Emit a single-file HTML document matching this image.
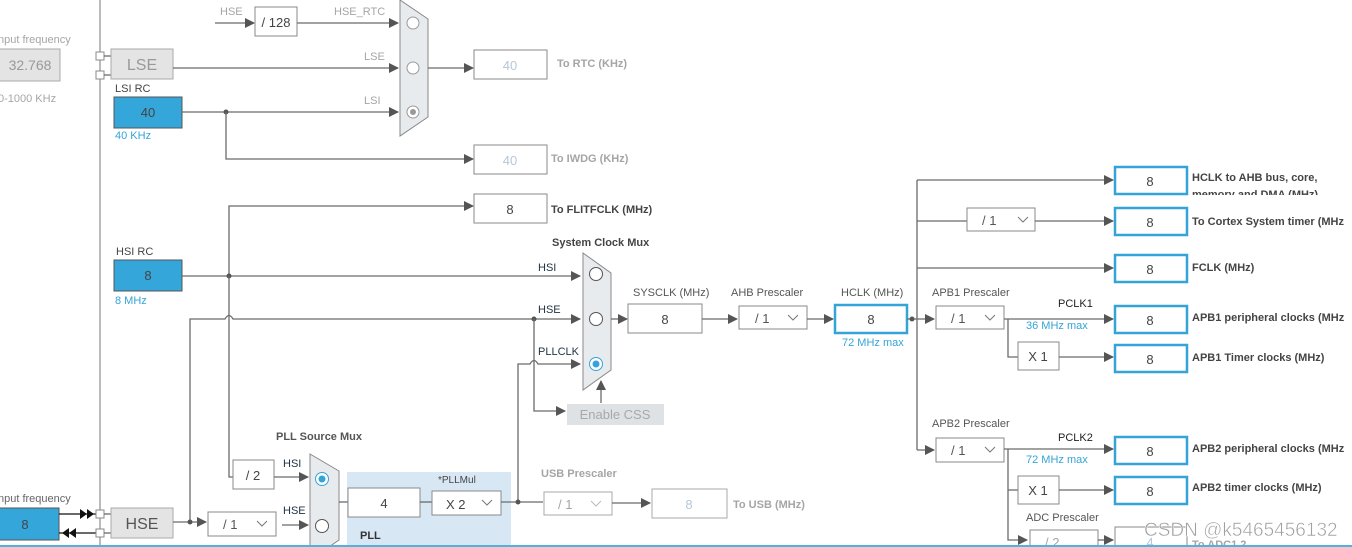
<!DOCTYPE html>
<html><head><meta charset="utf-8"><style>
html,body{margin:0;padding:0;background:#fff;}
svg{display:block;font-family:"Liberation Sans",sans-serif;}
.l{stroke:#6b6b6b;stroke-width:1.3;fill:none}
.b{fill:#fff;stroke:#8a8a8a;stroke-width:1}
.bb{fill:#fff;stroke:#34a4d8;stroke-width:2.5}
.t{font-size:11px;fill:#555}
.tb{font-size:11px;fill:#444;font-weight:bold}
.tg{font-size:11px;fill:#a5a5a5}
.blue{font-size:11px;fill:#34a4d8}
.v{font-size:13px;fill:#444;text-anchor:middle}
.vg{font-size:13px;fill:#b7c7d6;text-anchor:middle}
</style></head><body>
<svg width="1352" height="547" viewBox="0 0 1352 547" xmlns="http://www.w3.org/2000/svg">
<defs>
<marker id="a" markerWidth="10" markerHeight="10" refX="9" refY="5" orient="auto" markerUnits="userSpaceOnUse"><path d="M0,0 L10,5 L0,10 z" fill="#555"/></marker>
</defs>
<!-- left vertical -->
<line x1="100" y1="0" x2="100" y2="547" stroke="#777" stroke-width="1"/>
<!-- LSE input -->
<text x="-2" y="43" class="tg">nput frequency</text>
<rect x="-2" y="49" width="62" height="32" fill="#e4e4e4" stroke="#aaa"/>
<text x="30" y="70" class="vg" style="fill:#999;font-size:14px">32.768</text>
<text x="-2" y="102" class="tg">0-1000 KHz</text>
<rect x="96" y="52" width="8" height="8" class="b"/><rect x="96" y="71" width="8" height="8" class="b"/>
<line x1="104" y1="56" x2="111" y2="56" class="l"/><line x1="104" y1="75" x2="111" y2="75" class="l"/>
<rect x="111" y="49" width="62" height="30" fill="#e4e4e4" stroke="#aaa"/>
<text x="142" y="70" text-anchor="middle" style="font-size:16px;fill:#999">LSE</text>
<!-- LSI -->
<text x="115" y="92" class="tb" style="font-weight:normal;fill:#444">LSI RC</text>
<rect x="114" y="97" width="68" height="31" fill="#35a6da" stroke="#555"/>
<text x="148" y="117" class="v">40</text>
<text x="115" y="139" class="blue">40 KHz</text>
<!-- HSE/128 -->
<text x="220" y="15" class="tg">HSE</text>
<line x1="215" y1="23" x2="254" y2="23" class="l" marker-end="url(#a)"/>
<rect x="255" y="7" width="42" height="29" class="b"/>
<text x="276" y="27" class="v">/ 128</text>
<text x="334" y="15" class="tg">HSE_RTC</text>
<line x1="297" y1="23" x2="398" y2="23" class="l" marker-end="url(#a)"/>
<text x="364" y="60" class="tg">LSE</text>
<line x1="173" y1="68" x2="398" y2="68" class="l" marker-end="url(#a)"/>
<text x="364" y="104" class="tg">LSI</text>
<line x1="182" y1="112" x2="398" y2="112" class="l" marker-end="url(#a)"/>
<circle cx="226" cy="112" r="2.5" fill="#555"/>
<polyline points="226,112 226,159 473,159" class="l" marker-end="url(#a)"/>
<!-- RTC mux -->
<polygon points="400,0 428,19 428,117 400,136" fill="#e8ebee" stroke="#888"/>
<circle cx="413" cy="23" r="6" fill="#fff" stroke="#999"/>
<circle cx="413" cy="68" r="6" fill="#fff" stroke="#999"/>
<circle cx="413" cy="112" r="6" fill="#fff" stroke="#999"/><circle cx="413" cy="112" r="3" fill="#999"/>
<line x1="428" y1="68" x2="473" y2="68" class="l" marker-end="url(#a)"/>
<rect x="474" y="50" width="73" height="29" class="b"/><text x="510" y="70" class="vg">40</text>
<text x="557" y="67" class="tg" style="font-weight:bold">To RTC (KHz)</text>
<rect x="474" y="145" width="73" height="29" class="b"/><text x="510" y="165" class="vg">40</text>
<text x="551" y="162" class="tg" style="font-weight:bold">To IWDG (KHz)</text>
<!-- FLITF -->
<polyline points="229,276 229,206 473,206" class="l" marker-end="url(#a)"/>
<rect x="474" y="194" width="73" height="29" class="b"/><text x="510" y="214" class="v">8</text>
<text x="551" y="213" class="tb">To FLITFCLK (MHz)</text>
<!-- HSI -->
<text x="116" y="255" class="t" style="fill:#444">HSI RC</text>
<rect x="114" y="260" width="68" height="31" fill="#35a6da" stroke="#555"/>
<text x="148" y="280" class="v">8</text>
<text x="115" y="304" class="blue">8 MHz</text>
<line x1="182" y1="276" x2="580" y2="276" class="l" marker-end="url(#a)"/>
<circle cx="229" cy="276" r="2.5" fill="#555"/>
<polyline points="229,276 229,477 233,477" class="l"/>
<text x="538" y="271" class="t" style="fill:#234">HSI</text>
<!-- HSE line -->
<path d="M190,522 L190,319 L225,319 Q229,312 233,319 L580,319" class="l" marker-end="url(#a)"/>
<circle cx="534" cy="319" r="2.5" fill="#555"/>
<text x="538" y="313" class="t" style="fill:#234">HSE</text>
<path d="M518,502 L518,364 L530,364 Q534,357 538,364 L580,364" class="l" marker-end="url(#a)"/>
<text x="538" y="355" class="t" style="fill:#234">PLLCLK</text>
<polyline points="534,319 534,411 565,411" class="l" marker-end="url(#a)"/>
<rect x="567" y="404" width="97" height="21" fill="#dfe2e5"/>
<text x="615" y="419" text-anchor="middle" style="font-size:13px;fill:#a8a8a8">Enable CSS</text>
<line x1="601" y1="403" x2="601" y2="381" class="l" marker-end="url(#a)"/>
<!-- sys mux -->
<text x="552" y="246" class="tb">System Clock Mux</text>
<polygon points="583,253 611,273 611,370 583,390" fill="#e8ebee" stroke="#888"/>
<circle cx="596" cy="274" r="6.5" fill="#fff" stroke="#555"/>
<circle cx="596" cy="319" r="6.5" fill="#fff" stroke="#555"/>
<circle cx="596" cy="364" r="6.5" fill="#fff" stroke="#34a4d8"/><circle cx="596" cy="364" r="3.5" fill="#34a4d8"/>
<line x1="611" y1="319" x2="627" y2="319" class="l" marker-end="url(#a)"/>
<text x="633" y="296" class="t">SYSCLK (MHz)</text>
<rect x="628" y="304" width="74" height="29" class="b"/><text x="665" y="324" class="v">8</text>
<line x1="702" y1="319" x2="737" y2="319" class="l" marker-end="url(#a)"/>
<text x="731" y="296" class="t">AHB Prescaler</text>
<rect x="739" y="306" width="68" height="23" class="b"/><text x="755" y="323" class="t" style="font-size:13px">/ 1</text>
<polyline points="788,315 793,320 798,315" fill="none" stroke="#777"/>
<line x1="807" y1="319" x2="833" y2="319" class="l" marker-end="url(#a)"/>
<text x="841" y="296" class="t">HCLK (MHz)</text>
<rect x="835" y="305" width="72" height="28" class="bb"/><text x="871" y="324" class="v">8</text>
<text x="842" y="346" class="blue">72 MHz max</text>
<line x1="907" y1="319" x2="934" y2="319" class="l" marker-end="url(#a)"/>
<circle cx="912" cy="319" r="2.5" fill="#555"/>
<line x1="917" y1="180" x2="917" y2="450" class="l"/>
<!-- right outputs -->
<line x1="917" y1="180" x2="1113" y2="180" class="l" marker-end="url(#a)"/>
<rect x="1115" y="167" width="72" height="27" class="bb"/><text x="1150" y="186" class="v">8</text>
<text x="1192" y="181" class="tb">HCLK to AHB bus, core,</text>
<svg x="1190" y="186" width="160" height="9" overflow="hidden"><text x="2" y="12" class="tb">memory and DMA (MHz)</text></svg>
<line x1="917" y1="221" x2="967" y2="221" class="l"/>
<rect x="967" y="208" width="68" height="23" class="b"/><text x="982" y="225" class="t" style="font-size:13px">/ 1</text>
<polyline points="1018,217 1023,222 1028,217" fill="none" stroke="#777"/>
<line x1="1035" y1="221" x2="1113" y2="221" class="l" marker-end="url(#a)"/>
<rect x="1115" y="208" width="72" height="27" class="bb"/><text x="1150" y="227" class="v">8</text>
<text x="1192" y="225" class="tb">To Cortex System timer (MHz</text>
<line x1="917" y1="268" x2="1113" y2="268" class="l" marker-end="url(#a)"/>
<rect x="1115" y="255" width="72" height="27" class="bb"/><text x="1150" y="274" class="v">8</text>
<text x="1192" y="271" class="tb">FCLK (MHz)</text>
<!-- APB1 -->
<text x="932" y="296" class="t">APB1 Prescaler</text>
<rect x="936" y="306" width="68" height="23" class="b"/><text x="951" y="323" class="t" style="font-size:13px">/ 1</text>
<polyline points="985,315 990,320 995,315" fill="none" stroke="#777"/>
<line x1="1004" y1="319" x2="1113" y2="319" class="l" marker-end="url(#a)"/>
<text x="1058" y="307" class="t" style="fill:#222">PCLK1</text>
<text x="1026" y="329" class="blue">36 MHz max</text>
<rect x="1115" y="306" width="72" height="27" class="bb"/><text x="1150" y="325" class="v">8</text>
<text x="1192" y="321" class="tb">APB1 peripheral clocks (MHz</text>
<polyline points="1008,319 1008,357 1018,357" class="l"/>
<rect x="1018" y="342" width="41" height="28" class="b"/><text x="1038" y="361" class="v">X 1</text>
<line x1="1059" y1="357" x2="1113" y2="357" class="l" marker-end="url(#a)"/>
<rect x="1115" y="345" width="72" height="27" class="bb"/><text x="1150" y="364" class="v">8</text>
<text x="1192" y="361" class="tb">APB1 Timer clocks (MHz)</text>
<!-- APB2 -->
<line x1="917" y1="450" x2="934" y2="450" class="l" marker-end="url(#a)"/>
<text x="932" y="427" class="t">APB2 Prescaler</text>
<rect x="936" y="438" width="68" height="24" class="b"/><text x="951" y="455" class="t" style="font-size:13px">/ 1</text>
<polyline points="985,447 990,452 995,447" fill="none" stroke="#777"/>
<line x1="1004" y1="449" x2="1113" y2="449" class="l" marker-end="url(#a)"/>
<text x="1058" y="441" class="t" style="fill:#222">PCLK2</text>
<text x="1026" y="463" class="blue">72 MHz max</text>
<rect x="1115" y="437" width="72" height="27" class="bb"/><text x="1150" y="456" class="v">8</text>
<text x="1192" y="452" class="tb">APB2 peripheral clocks (MHz</text>
<polyline points="1008,449 1008,540 1027,540" class="l" marker-end="url(#a)"/>
<line x1="1008" y1="490" x2="1018" y2="490" class="l"/>
<rect x="1018" y="476" width="41" height="28" class="b"/><text x="1038" y="495" class="v">X 1</text>
<line x1="1059" y1="490" x2="1113" y2="490" class="l" marker-end="url(#a)"/>
<rect x="1115" y="477" width="72" height="27" class="bb"/><text x="1150" y="496" class="v">8</text>
<text x="1192" y="491" class="tb">APB2 timer clocks (MHz)</text>
<text x="1026" y="521" class="t">ADC Prescaler</text>
<rect x="1030" y="530" width="68" height="24" class="b"/><text x="1045" y="547" class="tg" style="font-size:13px">/ 2</text>
<line x1="1098" y1="540" x2="1113" y2="540" class="l" marker-end="url(#a)"/>
<rect x="1115" y="527" width="72" height="27" class="b"/><text x="1150" y="547" class="vg">4</text>
<text x="1192" y="548" class="tg" style="font-weight:bold">To ADC1,2</text>
<!-- bottom left HSE -->
<text x="-2" y="502" class="t" style="fill:#666">nput frequency</text>
<rect x="-2" y="508" width="61" height="32" fill="#35a6da" stroke="#555"/>
<text x="25" y="529" class="v">8</text>
<line x1="59" y1="514" x2="96" y2="514" stroke="#111" stroke-width="1.3"/>
<path d="M80,509 L87,514 L80,519 z M87,509 L94,514 L87,519 z" fill="#111"/>
<line x1="59" y1="533" x2="96" y2="533" stroke="#111" stroke-width="1.3"/>
<path d="M69,528 L62,533 L69,538 z M76,528 L69,533 L76,538 z" fill="#111"/>
<rect x="96" y="510" width="8" height="8" class="b"/><rect x="96" y="529" width="8" height="8" class="b"/>
<line x1="104" y1="514" x2="111" y2="514" class="l"/><line x1="104" y1="533" x2="111" y2="533" class="l"/>
<rect x="111" y="508" width="62" height="30" fill="#e4e4e4" stroke="#aaa"/>
<text x="142" y="529" text-anchor="middle" style="font-size:16px;fill:#555">HSE</text>
<line x1="173" y1="522" x2="206" y2="522" class="l" marker-end="url(#a)"/>
<circle cx="190" cy="522" r="2.5" fill="#555"/>
<rect x="208" y="512" width="68" height="24" class="b"/><text x="223" y="529" class="t" style="font-size:13px">/ 1</text>
<polyline points="257,521 262,526 267,521" fill="none" stroke="#777"/>
<line x1="282" y1="525" x2="308" y2="525" class="l" marker-end="url(#a)"/>
<text x="283" y="514" class="t" style="fill:#234">HSE</text>
<rect x="233" y="460" width="41" height="29" class="b"/><text x="253" y="480" class="v">/ 2</text>
<line x1="274" y1="477" x2="308" y2="477" class="l" marker-end="url(#a)"/>
<text x="283" y="467" class="t" style="fill:#234">HSI</text>
<text x="276" y="440" class="tb" style="font-weight:bold;fill:#555">PLL Source Mux</text>
<polygon points="310,454 339,471 339,540 310,560" fill="#e8ebee" stroke="#888"/>
<circle cx="322" cy="479" r="6.5" fill="#fff" stroke="#34a4d8"/><circle cx="322" cy="479" r="3.5" fill="#34a4d8"/>
<circle cx="322" cy="526" r="6.5" fill="#fff" stroke="#555"/>
<!-- PLL -->
<rect x="347" y="472" width="164" height="80" fill="#d8e7f4"/>
<line x1="339" y1="502" x2="348" y2="502" class="l"/>
<rect x="348" y="488" width="72" height="29" class="b"/><text x="384" y="508" class="v">4</text>
<line x1="420" y1="502" x2="432" y2="502" class="l"/>
<text x="438" y="483" class="t" style="fill:#444;font-size:10px">*PLLMul</text>
<rect x="432" y="491" width="69" height="24" class="b"/><text x="446" y="509" class="v" style="text-anchor:start">X 2</text>
<polyline points="482,500 487,505 492,500" fill="none" stroke="#777"/>
<text x="360" y="539" class="tb" style="fill:#333">PLL</text>
<line x1="501" y1="502" x2="543" y2="502" class="l"/>
<circle cx="518" cy="502" r="2.5" fill="#555"/>
<text x="541" y="477" class="tg" style="font-weight:bold">USB Prescaler</text>
<rect x="544" y="492" width="68" height="23" class="b" style="stroke:#aaa"/><text x="558" y="509" class="tg" style="font-size:13px">/ 1</text>
<polyline points="591,501 596,506 601,501" fill="none" stroke="#bbb"/>
<line x1="612" y1="503" x2="650" y2="503" class="l" marker-end="url(#a)"/>
<rect x="652" y="489" width="75" height="29" class="b" style="stroke:#aaa"/><text x="689" y="509" class="vg">8</text>
<text x="733" y="508" class="tg" style="font-weight:bold">To USB (MHz)</text>
<!-- bottom line & watermark -->
<line x1="0" y1="546" x2="1352" y2="546" stroke="#4fb3e0" stroke-width="2"/>
<text x="1144" y="536" style="font-size:19px;fill:#a0a0a0;stroke:#fff;stroke-width:0.5">CSDN @k5465456132</text>
</svg>
</body></html>
